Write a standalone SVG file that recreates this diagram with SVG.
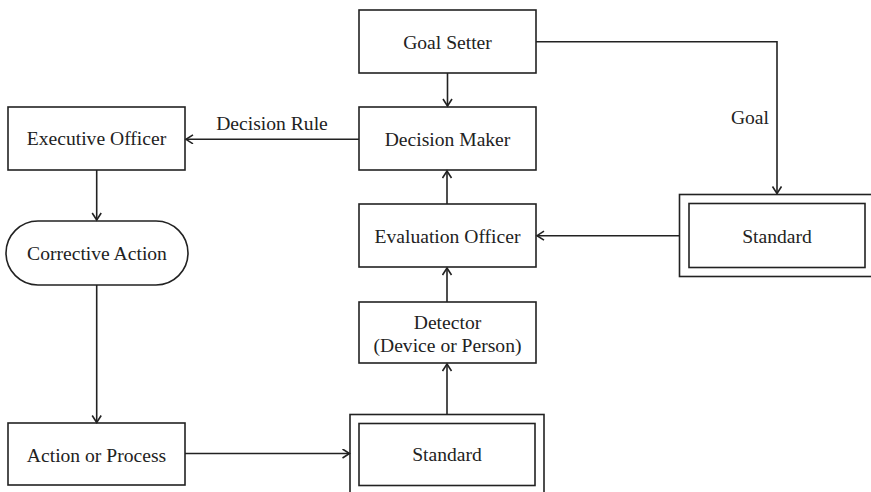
<svg xmlns="http://www.w3.org/2000/svg" width="871" height="492" viewBox="0 0 871 492">
  <style>
    .box { fill: #fff; stroke: #222; stroke-width: 1.6; }
    .lbl { font-family: "Liberation Serif", "Times New Roman", serif; font-size: 19.6px; fill: #222; text-anchor: middle; }
    .edge { fill: none; stroke: #222; stroke-width: 1.6; marker-end: url(#arr); }
  </style>
  <defs>
    <marker id="arr" markerUnits="userSpaceOnUse" markerWidth="12" markerHeight="12" refX="8" refY="5" orient="auto">
      <path d="M1,0.5 L8,5 L1,9.5" fill="none" stroke="#222" stroke-width="1.6"/>
    </marker>
  </defs>

  <rect width="871" height="492" fill="#fff"/>

  <g id="goal-setter">
    <rect class="box" x="359" y="10" width="177" height="63"/>
    <text class="lbl" x="447.5" y="48.5">Goal Setter</text>
  </g>

  <g id="decision-maker">
    <rect class="box" x="359" y="107" width="177" height="63"/>
    <text class="lbl" x="447.5" y="146">Decision Maker</text>
  </g>

  <g id="executive-officer">
    <rect class="box" x="8" y="107" width="177" height="63"/>
    <text class="lbl" x="96.5" y="145">Executive Officer</text>
  </g>

  <g id="corrective-action">
    <rect class="box" x="6" y="221" width="182" height="64" rx="32" ry="32"/>
    <text class="lbl" x="97" y="260">Corrective Action</text>
  </g>

  <g id="action-process">
    <rect class="box" x="8" y="423" width="177" height="62"/>
    <text class="lbl" x="96.5" y="461.5">Action or Process</text>
  </g>

  <g id="evaluation-officer">
    <rect class="box" x="359" y="204" width="177" height="63"/>
    <text class="lbl" x="447.5" y="242.5">Evaluation Officer</text>
  </g>

  <g id="detector">
    <rect class="box" x="359" y="302" width="177" height="61"/>
    <text class="lbl" x="447.5" y="328.5">Detector</text>
    <text class="lbl" x="447.5" y="351.5">(Device or Person)</text>
  </g>

  <g id="standard-right">
    <rect class="box" x="679.5" y="194.5" width="195" height="82"/>
    <rect class="box" x="689" y="203.5" width="176" height="64"/>
    <text class="lbl" x="777" y="242.5">Standard</text>
  </g>

  <g id="standard-bottom">
    <rect class="box" x="350" y="414.5" width="194" height="82"/>
    <rect class="box" x="359" y="423.5" width="176" height="62"/>
    <text class="lbl" x="447" y="460.5">Standard</text>
  </g>

  <g id="connectors">
    <path class="edge" d="M447.5,73 V106"/>
    <path class="edge" d="M536,41.7 H777 V193.5"/>
    <path class="edge" d="M359,139.3 H186"/>
    <text class="lbl" x="272" y="130">Decision Rule</text>
    <text class="lbl" x="769" y="124" style="text-anchor:end">Goal</text>
    <path class="edge" d="M96.7,170 V220"/>
    <path class="edge" d="M96.7,285 V422.5"/>
    <path class="edge" d="M185,453.5 H349.5"/>
    <path class="edge" d="M447,414.5 V364"/>
    <path class="edge" d="M447,302 V268"/>
    <path class="edge" d="M447,204 V171"/>
    <path class="edge" d="M679.5,235.7 H537"/>
  </g>
</svg>
